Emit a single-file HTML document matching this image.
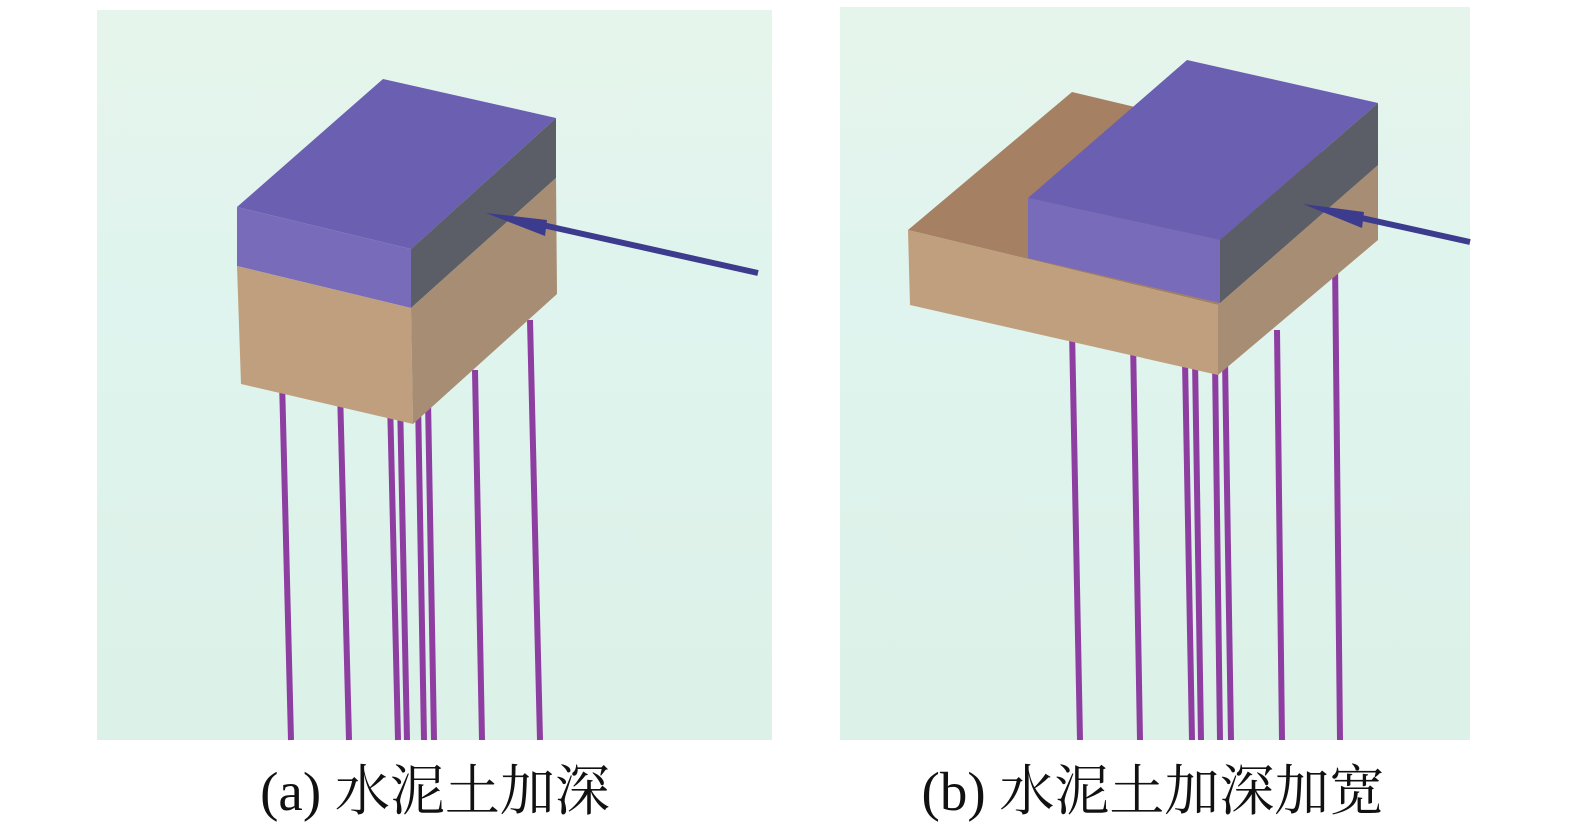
<!DOCTYPE html>
<html><head><meta charset="utf-8"><style>
html,body{margin:0;padding:0;background:#fff;}
svg{display:block}
text{font-family:"Liberation Serif","Noto Serif CJK SC",serif;font-size:55px;fill:#111}
</style></head><body>
<svg width="1575" height="837" viewBox="0 0 1575 837" xmlns="http://www.w3.org/2000/svg">
<defs>
<linearGradient id="bg" x1="0" y1="0" x2="0" y2="1">
<stop offset="0" stop-color="#e6f5ec"/><stop offset="0.4" stop-color="#dff4ee"/><stop offset="1" stop-color="#dcf1e7"/>
</linearGradient>
</defs>
<rect x="97" y="10" width="675" height="730" fill="url(#bg)"/>
<rect x="840" y="7" width="630" height="733" fill="url(#bg)"/>
<g stroke="#8e3ea0" stroke-width="6">
<line x1="282" y1="380" x2="291" y2="740"/><line x1="340" y1="390" x2="349" y2="740"/>
<line x1="390" y1="400" x2="398" y2="740"/><line x1="400" y1="400" x2="407" y2="740"/>
<line x1="418" y1="400" x2="424" y2="740"/><line x1="428" y1="400" x2="434" y2="740"/>
<line x1="475" y1="370" x2="482" y2="740"/><line x1="530" y1="320" x2="540" y2="740"/>
</g>
<polygon points="237,207 383,79 556,118 411,249" fill="#6a5fb1"/>
<polygon points="237,207 411,249 411,308 237,266" fill="#776bba"/>
<polygon points="411,249 556,118 556,178 411,308" fill="#5b5e66"/>
<polygon points="237,266 411,308 413,424 241,384" fill="#bf9f7e"/>
<polygon points="411,308 556,178 557,294 413,424" fill="#a68d73"/>
<line x1="758" y1="273" x2="520" y2="220" stroke="#3c3b8e" stroke-width="6"/>
<polygon points="486,213 547,220 545,236" fill="#3c3b8e"/>
<g stroke="#8e3ea0" stroke-width="6">
<line x1="1072" y1="330" x2="1080" y2="740"/><line x1="1133" y1="340" x2="1140" y2="740"/>
<line x1="1185" y1="360" x2="1192" y2="740"/><line x1="1195" y1="360" x2="1201" y2="740"/>
<line x1="1215" y1="360" x2="1220" y2="740"/><line x1="1225" y1="360" x2="1231" y2="740"/>
<line x1="1277" y1="330" x2="1282" y2="740"/><line x1="1335" y1="260" x2="1340" y2="740"/>
</g>
<polygon points="908,230 1072,92 1378,165 1218,305" fill="#a68063"/>
<polygon points="908,230 1218,305 1218,375 910,305" fill="#bf9f7e"/>
<polygon points="1218,305 1378,165 1378,240 1218,375" fill="#a68d73"/>
<polygon points="1028,198 1187,60 1378,103 1220,240" fill="#6a5fb1"/>
<polygon points="1028,198 1220,240 1220,303 1028,258" fill="#776bba"/>
<polygon points="1220,240 1378,103 1378,165 1220,303" fill="#5b5e66"/>
<line x1="1470" y1="242" x2="1330" y2="211" stroke="#3c3b8e" stroke-width="6"/>
<polygon points="1303,204 1364,212 1362,228" fill="#3c3b8e"/>
<text x="435" y="810" text-anchor="middle">(a) 水泥土加深</text>
<text x="1153" y="810" text-anchor="middle">(b) 水泥土加深加宽</text>
</svg>
</body></html>
